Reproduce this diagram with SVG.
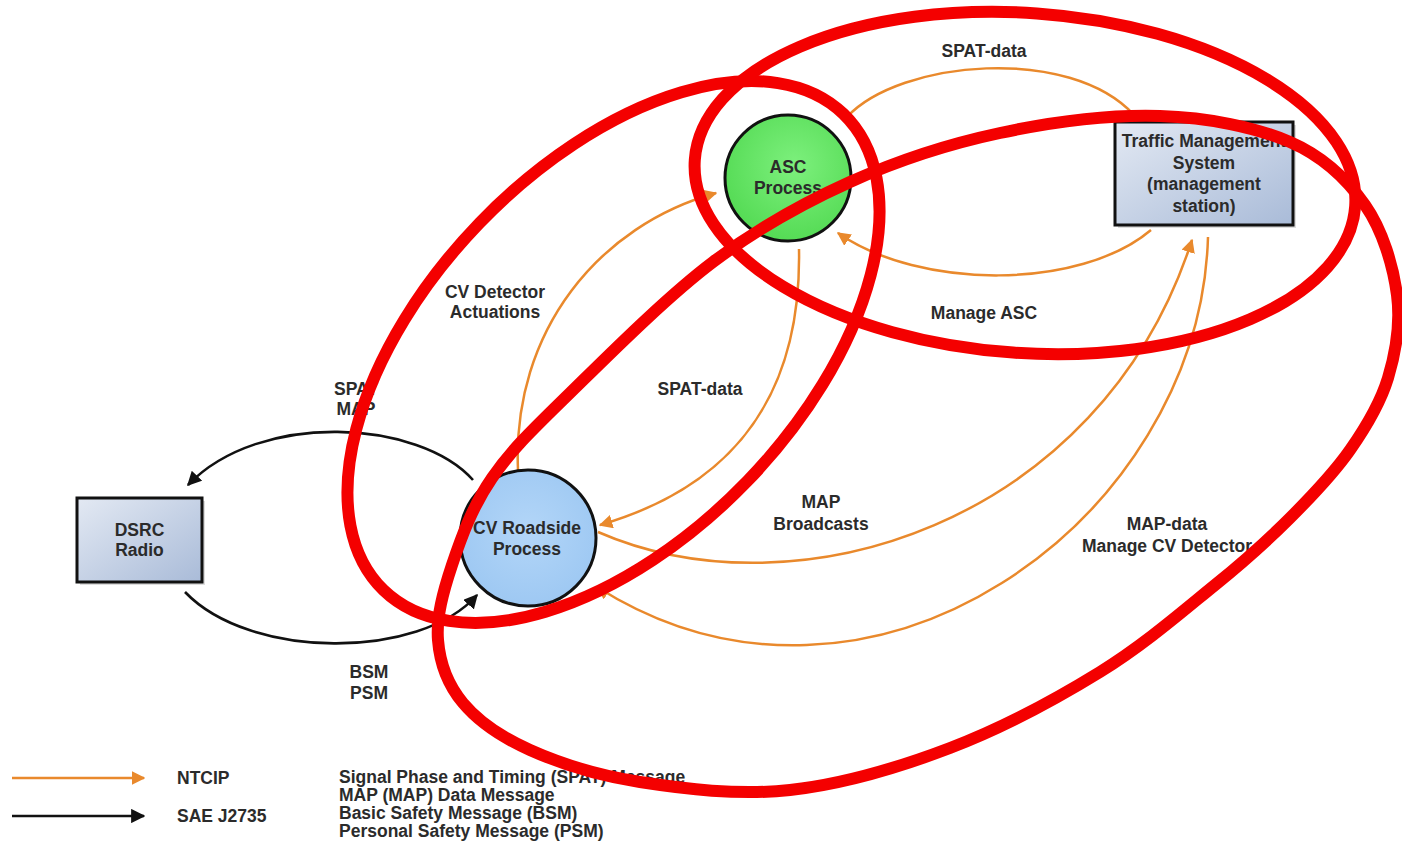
<svg xmlns="http://www.w3.org/2000/svg" width="1402" height="856" viewBox="0 0 1402 856">
<defs>
<style>
.t{font-family:"Liberation Sans",Arial,sans-serif;font-weight:bold;font-size:17.5px;fill:#2b2b2b;text-anchor:middle}
.tl{font-family:"Liberation Sans",Arial,sans-serif;font-weight:bold;font-size:17.5px;fill:#2b2b2b;text-anchor:start}
.or{fill:none;stroke:#E9892C;stroke-width:2.5}
.bk{fill:none;stroke:#111;stroke-width:2.6}
.node{stroke:#111;stroke-width:3}
.red{fill:none;stroke:#F40000;stroke-width:12}
</style>
<marker id="ao" viewBox="0 0 10 10" refX="9" refY="5" markerWidth="5.5" markerHeight="5.5" orient="auto" markerUnits="strokeWidth">
<path d="M0,0 L10,5 L0,10 z" fill="#E9892C"/>
</marker>
<marker id="ab" viewBox="0 0 10 10" refX="9" refY="5" markerWidth="5.5" markerHeight="5.5" orient="auto" markerUnits="strokeWidth">
<path d="M0,0 L10,5 L0,10 z" fill="#111"/>
</marker>
<linearGradient id="gbox" x1="0" y1="0" x2="1" y2="1">
<stop offset="0" stop-color="#E3E9F3"/>
<stop offset="1" stop-color="#A9BBD8"/>
</linearGradient>
<radialGradient id="ggreen" cx="0.55" cy="0.4" r="0.6">
<stop offset="0" stop-color="#7DF07D"/>
<stop offset="1" stop-color="#55DB55"/>
</radialGradient>
<radialGradient id="gblue" cx="0.5" cy="0.45" r="0.6">
<stop offset="0" stop-color="#B3D6F8"/>
<stop offset="1" stop-color="#9CC7F2"/>
</radialGradient>
</defs>
<rect width="1402" height="856" fill="#fff"/>

<g id="connectors">
<path class="or" d="M847,117 C 900,60 1070,45 1134,115"/>
<path class="or" d="M1151,230 C 1080,290 920,290 838,233" marker-end="url(#ao)"/>
<path class="or" d="M518,470 C 512,330 600,225 716,193" marker-end="url(#ao)"/>
<path class="or" d="M799,249 C 802,410 720,490 600,525" marker-end="url(#ao)"/>
<path class="or" d="M598,532 C 795,618 1100,525 1192,240" marker-end="url(#ao)"/>
<path class="or" d="M1208,237 C 1200,520 870,760 597,587" marker-end="url(#ao)"/>
<path class="bk" d="M473,480 C 420,420 260,410 188,485" marker-end="url(#ab)"/>
<path class="bk" d="M185,592 C 250,660 420,660 477,595" marker-end="url(#ab)"/>
</g>

<g id="labels">
<text class="t" x="984" y="57">SPAT-data</text>
<text class="t" x="984" y="319">Manage ASC</text>
<text class="t" x="495" y="298">CV Detector</text>
<text class="t" x="495" y="318">Actuations</text>
<text class="t" x="700" y="395">SPAT-data</text>
<text class="t" x="356" y="395">SPAT</text>
<text class="t" x="356" y="415">MAP</text>
<text class="t" x="369" y="678">BSM</text>
<text class="t" x="369" y="699">PSM</text>
<text class="t" x="821" y="508">MAP</text>
<text class="t" x="821" y="530">Broadcasts</text>
<text class="t" x="1167" y="530">MAP-data</text>
<text class="t" x="1167" y="552">Manage CV Detector</text>
</g>

<g id="asc">
<circle class="node" cx="788" cy="178" r="63" fill="url(#ggreen)"/>
<text class="t" x="788" y="173">ASC</text>
<text class="t" x="788" y="194">Process</text>
</g>

<g id="tms">
<rect x="1118" y="125" width="178" height="103" fill="#bbb" opacity="0.5"/>
<rect class="node" x="1115" y="122" width="178" height="103" fill="url(#gbox)"/>
<text class="t" x="1204" y="147">Traffic Management</text>
<text class="t" x="1204" y="168.5">System</text>
<text class="t" x="1204" y="190">(management</text>
<text class="t" x="1204" y="211.5">station)</text>
</g>

<g id="dsrc">
<rect x="80" y="501" width="125" height="84" fill="#bbb" opacity="0.5"/>
<rect class="node" x="77" y="498" width="125" height="84" fill="url(#gbox)"/>
<text class="t" x="139.5" y="536">DSRC</text>
<text class="t" x="139.5" y="556">Radio</text>
</g>

<g id="cv">
<circle class="node" cx="528" cy="538" r="68" fill="url(#gblue)"/>
<text class="t" x="527" y="534">CV Roadside</text>
<text class="t" x="527" y="555">Process</text>
</g>

<g id="legend">
<line class="or" x1="12" y1="778" x2="144" y2="778" marker-end="url(#ao)"/>
<text class="tl" x="177" y="784">NTCIP</text>
<line class="bk" x1="12" y1="816" x2="144" y2="816" marker-end="url(#ab)"/>
<text class="tl" x="177" y="822">SAE J2735</text>
<text class="tl" x="339" y="783">Signal Phase and Timing (SPAT) Message</text>
<text class="tl" x="339" y="801">MAP (MAP) Data Message</text>
<text class="tl" x="339" y="819">Basic Safety Message (BSM)</text>
<text class="tl" x="339" y="837">Personal Safety Message (PSM)</text>
</g>

<g id="annotations">
<ellipse class="red" cx="613.5" cy="352" rx="331" ry="186" transform="rotate(-46 613.5 352)"/>
<ellipse class="red" cx="1025" cy="183" rx="331" ry="170" transform="rotate(4 1025 183)"/>
<path class="red" d="M438,640 C436.2,617 443,592 452,565 C461,538 472.3,506.7 492,478 C511.7,449.3 533.2,429 570,393 C606.8,357 666.3,297.2 713,262 C759.7,226.8 802.2,203.5 850,182 C897.8,160.5 948.3,144 1000,133 C1051.7,122 1111.7,114.5 1160,116 C1208.3,117.5 1255.8,127.2 1290,142 C1324.2,156.8 1347.2,179.5 1365,205 C1382.8,230.5 1393.2,266.2 1397,295 C1400.8,323.8 1395.8,352.2 1388,378 C1380.2,403.8 1366.3,426.7 1350,450 C1333.7,473.3 1312.5,495.5 1290,518 C1267.5,540.5 1246.7,559.3 1215,585 C1183.3,610.7 1144.2,644.8 1100,672 C1055.8,699.2 1001.7,728.3 950,748 C898.3,767.7 841.7,784.3 790,790 C738.3,795.7 683.3,788.7 640,782 C596.7,775.3 559.5,763.2 530,750 C500.5,736.8 478.3,721.3 463,703 C447.7,684.7 439.8,663 438,640 Z"/>
</g>
</svg>
